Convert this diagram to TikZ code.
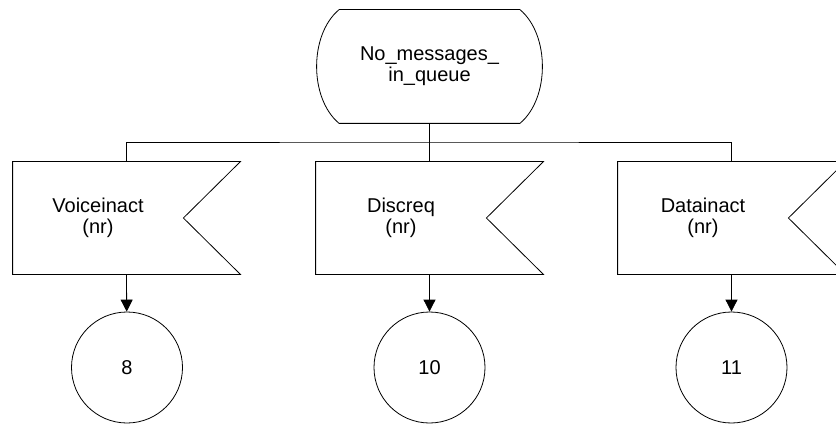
\documentclass[tikz,border=0pt]{standalone}
\usepackage{fontspec}
\setmainfont{Liberation Sans}
\usetikzlibrary{positioning, arrows.meta}

\begin{document}
\begin{tikzpicture}[x=1pt,y=-1pt,line width=0.8pt,
    every node/.style={font=\fontsize{20}{21}\selectfont},
    statebox/.style={minimum width=180pt,minimum height=113pt,align=center,inner sep=0pt},
    sigbox/.style={minimum width=170pt,minimum height=112pt,align=center,inner sep=0pt},
    conn/.style={circle,draw,minimum size=111pt,inner sep=0pt},
    flow/.style={-{Triangle[length=12pt,width=12pt]}}]
    \useasboundingbox (0,0) rectangle (836,425);

    % state
    \node[statebox] (nomsg) at (429.5,66.5) {No\_messages\_\\in\_queue};
    \draw (nomsg.north west) -- (nomsg.north east)
          .. controls +(30,25) and +(30,-25) .. (nomsg.south east)
          -- (nomsg.south west)
          .. controls +(-30,-25) and +(-30,25) .. (nomsg.north west);

    % input signals
    \node[sigbox] (voice) at (98,218) {Voiceinact\\(nr)};
    \node[sigbox] (disc) at (401,218) {Discreq\\(nr)};
    \node[sigbox] (data) at (703,218) {Datainact\\(nr)};
    \foreach \s in {voice,disc,data}
        \draw (\s.north west) -- ([xshift=57pt]\s.north east) -- (\s.east)
              -- ([xshift=57pt]\s.south east) -- (\s.south west) -- cycle;

    % connectors
    \node[conn] (c8) at (127,367.5) {8};
    \node[conn] (c10) at (429.5,367.5) {10};
    \node[conn] (c11) at (731.5,367.5) {11};

    \coordinate (bus) at (429.5,142);
    \draw (nomsg.south) -- ([xshift=28.5pt]disc.north);
    \draw ([xshift=28.5pt]voice.north) |- (bus) -| ([xshift=28.5pt]data.north);

    \draw[flow] ([xshift=28.5pt]voice.south) -- (c8);
    \draw[flow] ([xshift=28.5pt]disc.south) -- (c10);
    \draw[flow] ([xshift=28.5pt]data.south) -- (c11);
\end{tikzpicture}
\end{document}
